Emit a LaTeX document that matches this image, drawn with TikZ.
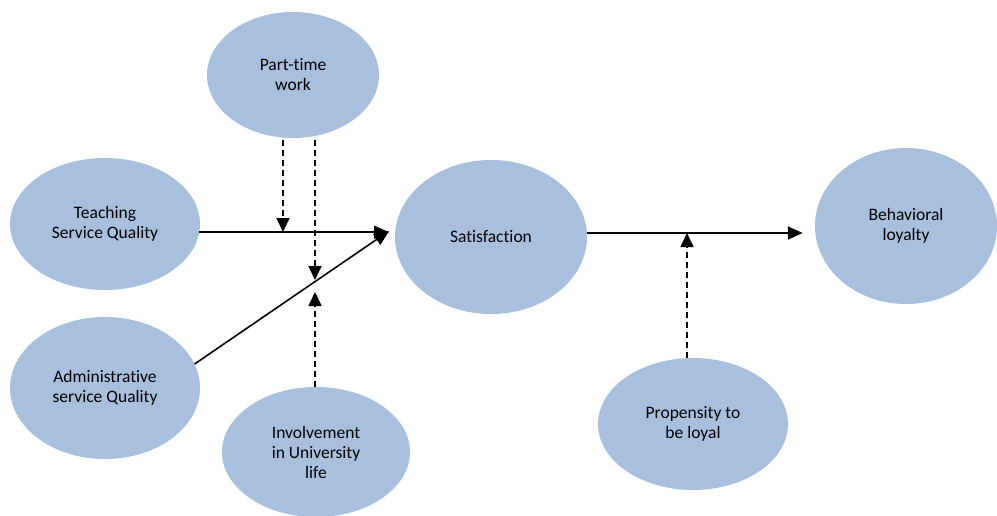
\documentclass[tikz,border=0pt]{standalone}
\usepackage{fontspec}
\setmainfont{Carlito}[RawFeature=-liga]
\usetikzlibrary{arrows.meta,shapes.geometric}
\definecolor{bubble}{HTML}{A8C0DE}
\begin{document}
\begin{tikzpicture}[x=1pt,y=-1pt,
  construct/.style={ellipse,fill=bubble,inner sep=0pt,align=center,
    font=\fontsize{17.5}{20}\selectfont},
  link/.style={line width=1.6pt,-{Triangle[length=15pt,width=13pt]}},
  moderator/.style={line width=1.6pt,dash pattern=on 6pt off 4pt,
    -{Triangle[length=14pt,width=13pt]}}]
\useasboundingbox (0,0) rectangle (997,515);

% constructs
\node[construct,minimum width=172pt,minimum height=126pt] (pt)    at (293,75)  {Part-time\\work};
\node[construct,minimum width=190pt,minimum height=132pt] (teach) at (105,224) {Teaching\\Service Quality};
\node[construct,minimum width=190pt,minimum height=142pt] (adm)   at (105,388) {Administrative\\service Quality};
\node[construct,minimum width=188pt,minimum height=130pt] (inv)   at (316,452) {Involvement\\in University\\life};
\node[construct,minimum width=192pt,minimum height=154pt] (sat)   at (491,237) {Satisfaction};
\node[construct,minimum width=190pt,minimum height=132pt] (prop)  at (693,424) {Propensity to\\be loyal};
\node[construct,minimum width=182pt,minimum height=156pt] (beh)   at (906,226) {Behavioral\\loyalty};

% meeting points of the moderating arrows (y grows downwards)
\coordinate (tip)  at (389,231);
\coordinate (bend) at (283,232);
\coordinate (dtop) at (315,280);
\coordinate (dbot) at (315,292);
\coordinate (loy)  at (687,233);

% direct effects
\draw[link] (teach.-5) -- (tip |- teach.-5);
\draw[link] (adm.15) -- (tip);
\draw[link] (sat.east |- loy) -- ([xshift=-12pt]beh.west |- loy);

% moderating effects
\draw[moderator] (pt.south -| bend) ++(0,2) -- (bend);
\draw[moderator] (pt.south -| dtop) ++(0,2) -- (dtop);
\draw[moderator] (inv.north -| dbot) -- (dbot);
\draw[moderator] (prop.north -| loy) -- (loy);
\end{tikzpicture}
\end{document}
